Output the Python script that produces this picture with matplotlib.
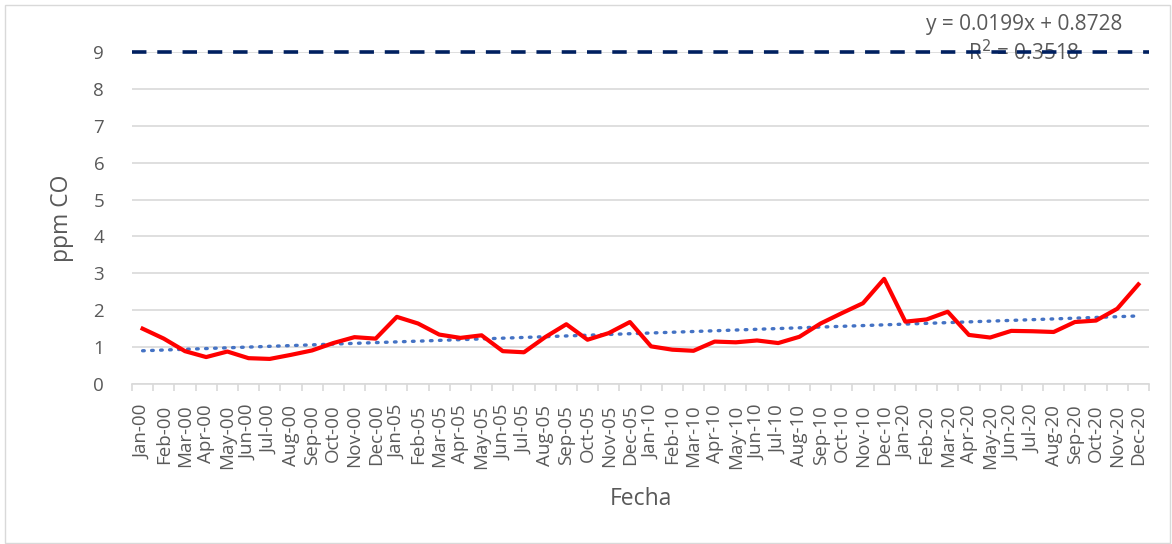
import matplotlib.pyplot as plt
import numpy as np
from matplotlib.patches import Rectangle

plt.rcParams['font.family'] = ['Open Sans', 'DejaVu Sans']

# Monthly CO concentration (ppm) for 2000, 2005, 2010 and 2020
months = ['Jan', 'Feb', 'Mar', 'Apr', 'May', 'Jun',
          'Jul', 'Aug', 'Sep', 'Oct', 'Nov', 'Dec']
years = ['00', '05', '10', '20']
labels = [m + '-' + y for y in years for m in months]

co_2000 = [1.50, 1.23, 0.89, 0.73, 0.88, 0.70, 0.68, 0.79, 0.91, 1.11, 1.27, 1.23]
co_2005 = [1.82, 1.64, 1.34, 1.25, 1.32, 0.89, 0.86, 1.27, 1.62, 1.20, 1.38, 1.68]
co_2010 = [1.02, 0.93, 0.90, 1.15, 1.13, 1.18, 1.11, 1.28, 1.64, 1.92, 2.19, 2.85]
co_2020 = [1.69, 1.75, 1.96, 1.33, 1.26, 1.44, 1.43, 1.41, 1.68, 1.72, 2.04, 2.70]
co = np.array(co_2000 + co_2005 + co_2010 + co_2020)

limit = 9  # norm reference line
trend_text = 'y = 0.0199x + 0.8728\nR$^2$ = 0.3518'

x = np.arange(len(co))

fig = plt.figure(figsize=(11.72, 5.44), dpi=100)
ax = fig.add_axes([132 / 1172, 1 - 384 / 544, (1149 - 132) / 1172, (384 - 52) / 544])

# light border around the chart area
fig.patches.append(Rectangle((5 / 1172, 1 / 544), 1165 / 1172, 538 / 544,
                             transform=fig.transFigure, fill=False,
                             edgecolor='#d9d9d9', lw=1))

# trend line (least squares on index 1..n, like Excel)
slope, intercept = np.polyfit(x + 1, co, 1)
ax.plot(x, slope * (x + 1) + intercept, color='#4472C4', lw=2.4,
        linestyle=(0, (0.5, 2.2)), dash_capstyle='round', zorder=3)

ax.plot(x, co, color='#ff0000', lw=3.0, zorder=4)

ax.axhline(limit, color='#002060', lw=2.6, linestyle=(0, (4, 3)), zorder=5,
           clip_on=False)

ax.text(0.877, 1.036, trend_text, transform=ax.transAxes, ha='center',
        va='center', fontsize=15, color='#595959', linespacing=1.25,
        zorder=2)

ax.set_xlim(-0.5, len(co) - 0.5)
ax.set_ylim(0, 9)
ax.set_yticks(range(0, 10))
ax.yaxis.grid(True, color='#d9d9d9', lw=1.2)
ax.set_axisbelow(True)

ax.set_xticks(x)
ax.set_xticklabels(labels, rotation=90)
ax.set_xticks(np.arange(-0.5, len(co)), minor=True)
ax.tick_params(axis='x', which='major', length=0, pad=15, labelsize=13.5,
               labelcolor='#595959')
ax.tick_params(axis='x', which='minor', length=5, color='#d9d9d9', width=1.2)
ax.tick_params(axis='y', length=0, pad=20, labelsize=13.5, labelcolor='#595959')

for side in ['top', 'right', 'left']:
    ax.spines[side].set_visible(False)
ax.spines['bottom'].set_color('#d9d9d9')
ax.spines['bottom'].set_linewidth(1.2)

ax.set_ylabel('ppm CO', fontsize=16.5, color='#595959', labelpad=14)
ax.set_xlabel('Fecha', fontsize=16.5, color='#595959', labelpad=13)

fig.savefig('out.png', dpi=100)
